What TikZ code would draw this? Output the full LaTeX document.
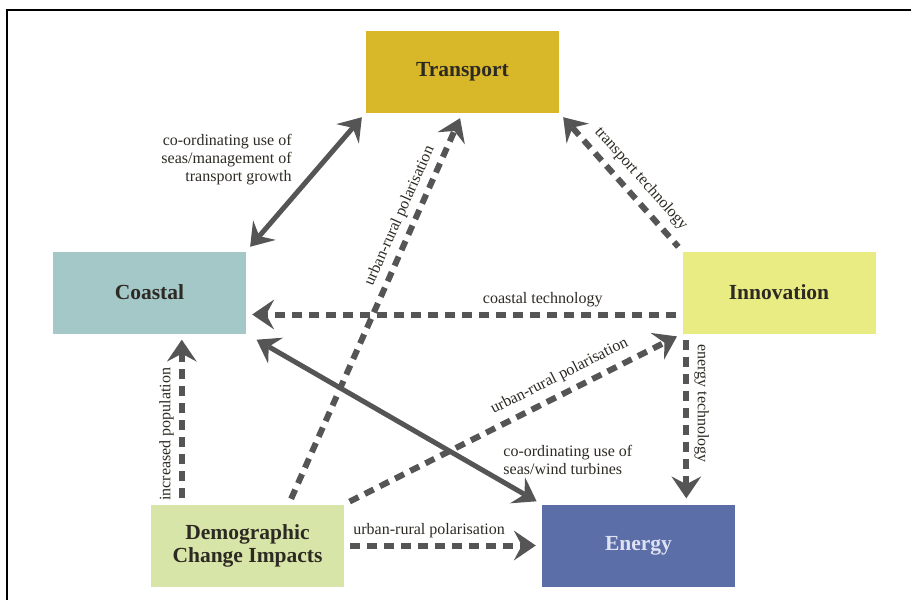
\documentclass[tikz,border=0pt]{standalone}
\usepackage{fontspec}
\setmainfont{Liberation Serif}
\usetikzlibrary{arrows.meta,positioning}

\definecolor{transportcol}{RGB}{216,184,40}
\definecolor{coastalcol}{RGB}{164,199,200}
\definecolor{innovcol}{RGB}{232,236,130}
\definecolor{democol}{RGB}{216,229,168}
\definecolor{energycol}{RGB}{92,110,168}
\definecolor{energytext}{RGB}{222,226,242}
\definecolor{arrowcol}{RGB}{85,85,85}
\definecolor{textcol}{RGB}{45,42,35}

\begin{document}
\begin{tikzpicture}[x=1pt,y=-1pt,on grid,
    sector/.style={minimum width=193pt,minimum height=82pt,inner sep=0pt,align=center,
      text=textcol,font=\bfseries\fontsize{21.5}{23}\selectfont},
    link/.style={line width=5pt,color=arrowcol,shorten >=6pt,shorten <=6pt},
    dashlink/.style={link,line width=6pt,dash pattern=on 10pt off 7pt},
    lbl/.style={text=textcol,font=\fontsize{16}{18}\selectfont,inner sep=2pt},
    >={Stealth[length=22pt,width=30pt,inset=8pt,line width=0pt]}]
  \useasboundingbox (0,0) rectangle (911,600);
  \draw[line width=1.5pt] (7,600) -- (7,10) -- (911,10);

  \node[sector,fill=transportcol] (transport)  at (462.5,71.5)                           {Transport};
  \node[sector,fill=coastalcol]   (coastal)    [below left=221pt and 313pt of transport]  {Coastal};
  \node[sector,fill=innovcol]     (innovation) [below right=221pt and 316.5pt of transport] {Innovation};
  \node[sector,fill=democol]      (demo)       [below right=253pt and 98pt of coastal]    {Demographic\\Change Impacts};
  \node[sector,fill=energycol,text=energytext] (energy) [right=391pt of demo]             {Energy};

  \path[<->,link]
    (coastal.north east) edge node[pos=0.66,anchor=east,xshift=-29pt,align=right,lbl]
      {co-ordinating use of\\seas/management of\\transport growth} (transport.south west)
    (coastal.south east) edge[shorten <=12pt] node[pos=0.74,anchor=west,xshift=34pt,align=left,lbl]
      {co-ordinating use of\\seas/wind turbines} (energy.north west);

  \path[->,dashlink]
    (demo.45)           edge node[pos=0.72,sloped,above=3pt,lbl] {urban-rural polarisation} (transport.south)
    (demo.north east)   edge node[pos=0.66,sloped,above=5pt,lbl] {urban-rural polarisation} (innovation.south west)
    (demo.east)         edge node[pos=0.43,above=3pt,lbl] {urban-rural polarisation} (energy.west)
    ([xshift=31pt]demo.north west) edge node[pos=0.41,rotate=90,anchor=south,lbl,inner sep=5pt] {increased population}
      ([xshift=31pt]demo.north west |- coastal.south)
    ([yshift=-22pt]innovation.west) edge node[pos=0.32,above=3pt,lbl] {coastal technology} ([yshift=-22pt]coastal.east)
    ([xshift=4pt]innovation.south west) edge node[pos=0.41,rotate=-90,anchor=south,lbl,inner sep=5pt] {energy technology}
      ([xshift=4pt]innovation.south west |- energy.north);
  \path[<-,dashlink]
    (transport.south east) edge node[pos=0.56,sloped,above=5pt,lbl] {transport technology} (innovation.north west);
\end{tikzpicture}
\end{document}
